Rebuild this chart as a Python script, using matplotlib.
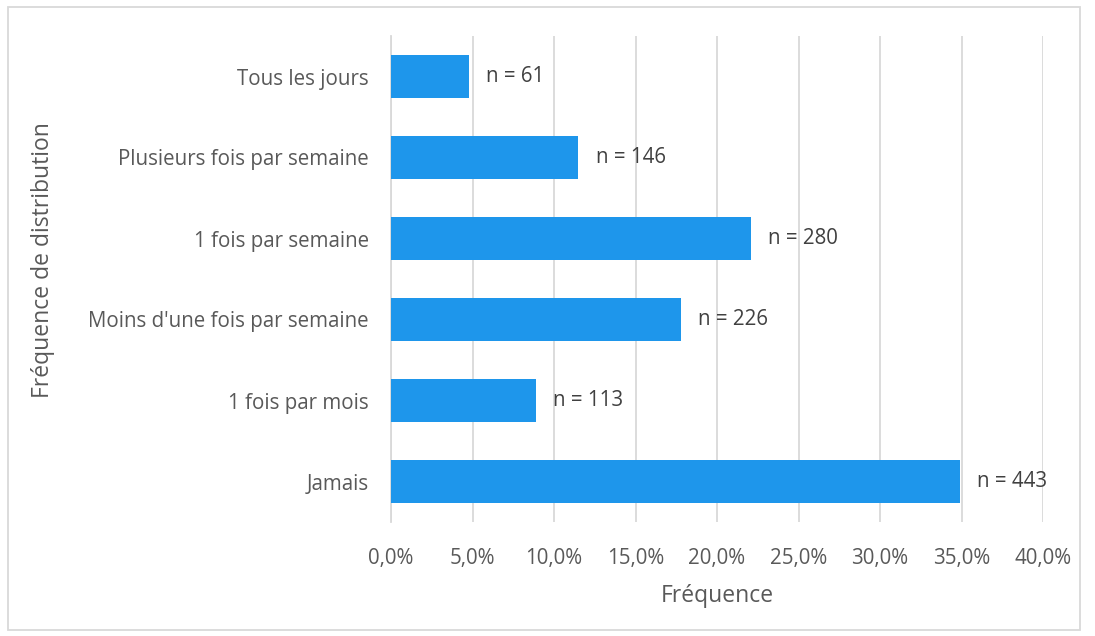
import matplotlib
matplotlib.use("Agg")
import matplotlib.pyplot as plt
from matplotlib.patches import Rectangle
from matplotlib.ticker import FuncFormatter

categories = ["Jamais", "1 fois par mois", "Moins d'une fois par semaine",
              "1 fois par semaine", "Plusieurs fois par semaine", "Tous les jours"]
values = [34.9, 8.9, 17.8, 22.1, 11.5, 4.8]
counts = [443, 113, 226, 280, 146, 61]
xticks = [0, 5, 10, 15, 20, 25, 30, 35, 40]

plt.rcParams['font.family'] = ['Open Sans', 'DejaVu Sans']
text_color = "#595959"
W, H = 1095, 636
fig = plt.figure(figsize=(W / 100, H / 100), dpi=100)
ax = fig.add_axes([391 / W, 1 - 522 / H, (1043 - 391) / W, (522 - 36) / H])

ypos = list(range(len(categories)))
ax.barh(ypos, values, height=0.526, color="#1E96EB", zorder=3)
for y, v, n in zip(ypos, values, counts):
    ax.text(v + 1.05, y, f"n = {n}", va="center", ha="left",
            fontsize=14.8, color="#404040")

ax.set_xlim(0, 40)
ax.set_ylim(-0.5, len(categories) - 0.5)
ax.set_xticks(xticks)
ax.xaxis.set_major_formatter(FuncFormatter(lambda x, p: f"{x:.1f}%".replace(".", ",")))
ax.set_yticks(ypos)
ax.set_yticklabels(categories)
ax.tick_params(axis="both", length=0, labelsize=14.8, colors=text_color)
ax.tick_params(axis="x", pad=18.5)
ax.tick_params(axis="y", pad=16)
ax.grid(axis="x", color="#D9D9D9", linewidth=1.3, zorder=0)
for s in ["top", "right", "bottom"]:
    ax.spines[s].set_visible(False)
ax.spines["left"].set_color("#D9D9D9")
ax.spines["left"].set_linewidth(1.3)

ax.set_xlabel("Fréquence", fontsize=16.5, color=text_color, labelpad=11)
fig.text(43 / W, 1 - 260 / H, "Fréquence de distribution", rotation=90,
         ha="center", va="center", fontsize=16.5, color=text_color)

fig.patches.append(Rectangle((8 / W, 1 - 630 / H), (1080 - 8) / W, (630 - 7) / H,
                             transform=fig.transFigure, fill=False,
                             edgecolor="#D9D9D9", linewidth=1.3))

fig.savefig("out.png", dpi=100)
